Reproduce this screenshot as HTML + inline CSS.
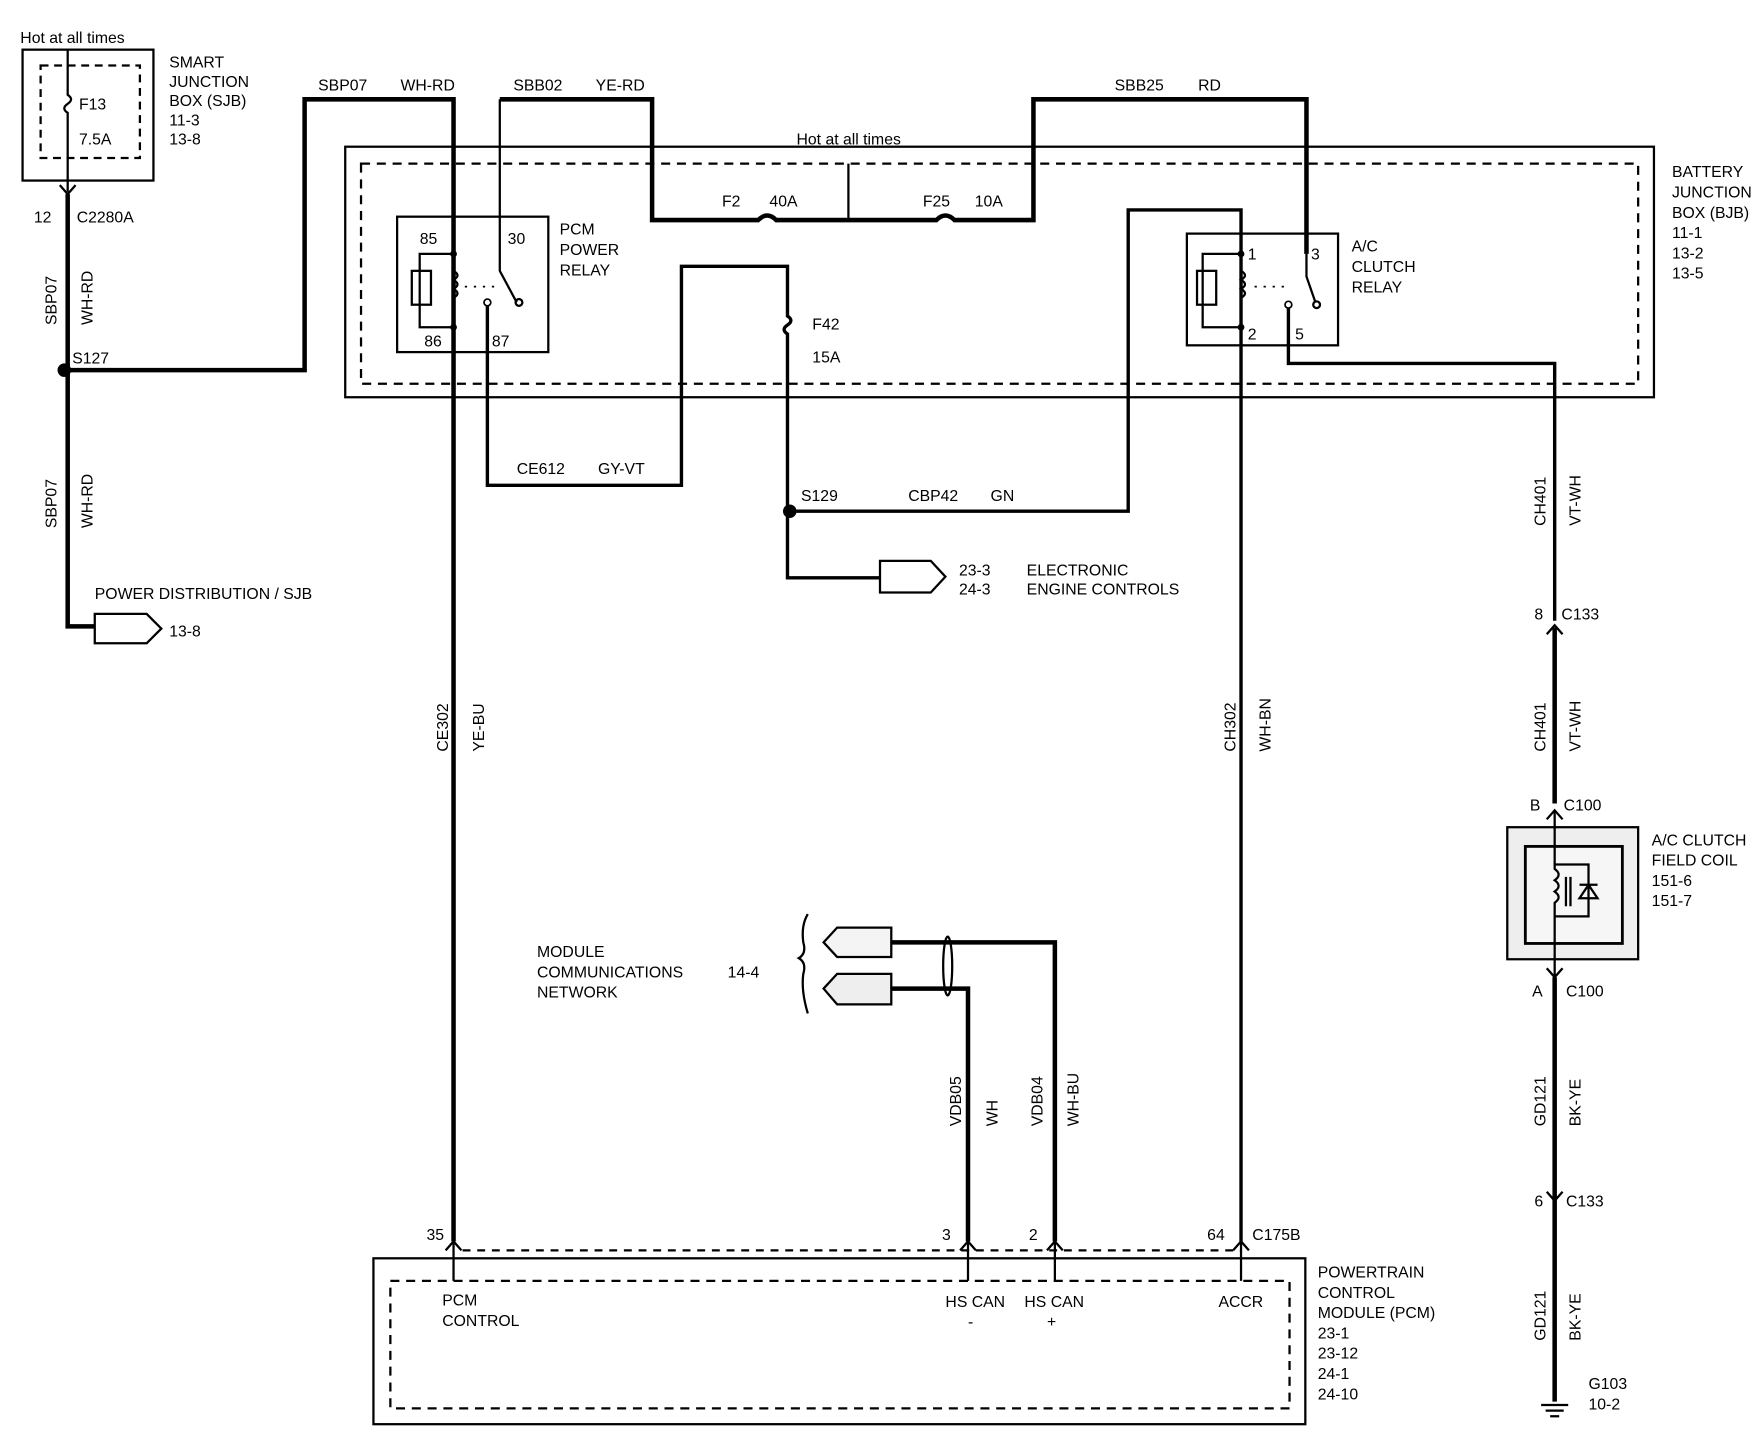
<!DOCTYPE html>
<html><head><meta charset="utf-8"><style>
html,body{margin:0;padding:0;background:#fff;}
svg{display:block;}
text{font-family:"Liberation Sans",sans-serif;font-size:14px;fill:#000;}
</style></head><body>
<svg width="1760" height="1440" viewBox="0 0 1560 1276" preserveAspectRatio="none" xmlns="http://www.w3.org/2000/svg">
<rect width="1560" height="1276" fill="#fff"/>
<g fill="none" stroke="#000">
<!-- SJB -->
<rect x="20" y="44" width="116" height="116" stroke-width="2"/>
<rect x="36" y="58" width="88" height="82" stroke-width="2" stroke-dasharray="7,5"/>
<path d="M60 44 V84 q6 4 0 8 q-6 4 0 8 V170" stroke-width="2"/>
<path d="M53 164 L60 172 L67 164" stroke-width="2"/>
<path d="M60 172 V555 H84" stroke-width="4"/>
<path d="M58 328 H270 V88 H402 V1100" stroke-width="4"/>
<path d="M84 544 H130 L143 557 L130 570 H84 Z" stroke-width="2"/>
<!-- BJB -->
<rect x="306" y="130" width="1160" height="222" stroke-width="2"/>
<rect x="320" y="145" width="1132" height="195" stroke-width="2" stroke-dasharray="8,6"/>
<path d="M443 88 H578 V195 H672 q8 -8 16 0 H830 q8 -8 16 0 H916 V88 H1158 V225" stroke-width="4"/>
<path d="M752 145 V195" stroke-width="2"/>
<path d="M443 88 V240 L458 268" stroke-width="2"/>
<!-- PCM power relay -->
<rect x="352" y="192" width="134" height="120" stroke-width="2"/>
<path d="M402 195 V330" stroke-width="2"/>
<path d="M402 225 H372 V290 H402" stroke-width="2"/>
<rect x="365" y="240" width="17" height="30" stroke-width="2"/>
<path d="M402 240 q7 4 0 8 q7 4 0 8 q7 4 0 8" stroke-width="2"/>
<path d="M412 254 H440" stroke-width="1.5" stroke-dasharray="2,6"/>
<circle cx="432" cy="268" r="3" stroke-width="1.5"/>
<circle cx="460" cy="268" r="3" stroke-width="2"/>
<path d="M432 271 V430 H604 V236 H698 V280 q6 4 0 8 q-6 4 0 8 V512 H780" stroke-width="3"/>
<path d="M780 497 H825 L838 511 L825 525 H780 Z" stroke-width="2"/>
<path d="M700 453 H1000 V186 H1100 V1100" stroke-width="3"/>
<!-- A/C relay -->
<rect x="1052" y="207" width="134" height="99" stroke-width="2"/>
<path d="M1100 225 H1066 V290 H1100" stroke-width="2"/>
<rect x="1061" y="240" width="17" height="30" stroke-width="2"/>
<path d="M1100 240 q7 4 0 8 q7 4 0 8 q7 4 0 8" stroke-width="2"/>
<path d="M1112 254 H1140" stroke-width="1.5" stroke-dasharray="2,6"/>
<path d="M1158 225 V245 L1166 268" stroke-width="2"/>
<circle cx="1167" cy="270" r="3" stroke-width="2"/>
<circle cx="1142" cy="270" r="3" stroke-width="1.5"/>
<path d="M1142 273 V322 H1378 V550" stroke-width="3"/>
<path d="M1378 556 V712" stroke-width="4"/>
<path d="M1371 562 L1378 554 L1385 562" stroke-width="2"/>
<path d="M1371 726 L1378 718 L1385 726" stroke-width="2"/>
<!-- field coil -->
<rect x="1336" y="733" width="116" height="117" stroke-width="2" fill="#eee"/>
<rect x="1352" y="750" width="86" height="86" stroke-width="2.5" fill="#f6f6f6"/>
<path d="M1378 718 V770 q7 5 0 10 q7 5 0 10 q7 5 0 10 V865" stroke-width="2"/>
<path d="M1388 777 V803 M1392 777 V803" stroke-width="2"/>
<path d="M1378 766 H1408 V812 H1378 M1400 796 H1416 L1408 784 Z M1400 784 H1416" stroke-width="2"/>
<path d="M1371 858 L1378 866 L1385 858" stroke-width="2"/>
<path d="M1378 866 V1242" stroke-width="4"/>
<path d="M1371 1056 L1378 1064 L1385 1056" stroke-width="2"/>
<path d="M1366 1245 H1390 M1370 1250 H1386 M1374 1255 H1382" stroke-width="2"/>
<!-- MCN -->
<path d="M716 810 q-6 10 -4 25 q3 10 -4 14 q7 4 4 14 q-2 15 4 35" stroke-width="2"/>
<path d="M790 822 H742 L730 835 L742 848 H790 Z" stroke-width="2" fill="#f4f4f4"/>
<path d="M790 863 H742 L730 876 L742 890 H790 Z" stroke-width="2" fill="#eee"/>
<path d="M790 835 H935 V1100" stroke-width="4"/>
<path d="M790 876 H858 V1100" stroke-width="4"/>
<ellipse cx="840" cy="856" rx="4" ry="26" stroke-width="2"/>
<!-- PCM -->
<path d="M410 1108 H1100" stroke-width="2" stroke-dasharray="7,6"/>
<rect x="331" y="1115" width="826" height="147" stroke-width="2"/>
<rect x="346" y="1135" width="797" height="113" stroke-width="2" stroke-dasharray="8,6"/>
<path d="M402 1100 V1135 M858 1100 V1135 M935 1100 V1135 M1100 1100 V1135" stroke-width="2"/>
<path d="M395 1108 L402 1100 L409 1108 M851 1108 L858 1100 L865 1108 M928 1108 L935 1100 L942 1108 M1093 1108 L1100 1100 L1107 1108" stroke-width="2"/>
</g>
<circle cx="57" cy="328" r="6"/>
<circle cx="700" cy="453" r="6"/>
<circle cx="402" cy="225" r="3"/><circle cx="402" cy="290" r="3"/>
<circle cx="1100" cy="225" r="3"/><circle cx="1100" cy="290" r="3"/>
<g>
<text x="18" y="38">Hot at all times</text>
<text x="70" y="97">F13</text><text x="70" y="128">7.5A</text>
<text x="150" y="60">SMART</text><text x="150" y="77">JUNCTION</text><text x="150" y="94">BOX (SJB)</text><text x="150" y="111">11-3</text><text x="150" y="128">13-8</text>
<text x="30" y="197">12</text><text x="68" y="197">C2280A</text>
<text x="64" y="322">S127</text>
<text x="84" y="531">POWER DISTRIBUTION / SJB</text><text x="150" y="564">13-8</text>
<text x="282" y="80">SBP07</text><text x="355" y="80">WH-RD</text>
<text x="455" y="80">SBB02</text><text x="528" y="80">YE-RD</text>
<text x="988" y="80">SBB25</text><text x="1062" y="80">RD</text>
<text x="706" y="128">Hot at all times</text>
<text x="640" y="183">F2</text><text x="682" y="183">40A</text>
<text x="818" y="183">F25</text><text x="864" y="183">10A</text>
<text x="372" y="216">85</text><text x="450" y="216">30</text><text x="376" y="307">86</text><text x="436" y="307">87</text>
<text x="496" y="208">PCM</text><text x="496" y="226">POWER</text><text x="496" y="244">RELAY</text>
<text x="720" y="292">F42</text><text x="720" y="321">15A</text>
<text x="458" y="420">CE612</text><text x="530" y="420">GY-VT</text>
<text x="710" y="444">S129</text><text x="805" y="444">CBP42</text><text x="878" y="444">GN</text>
<text x="850" y="510">23-3</text><text x="850" y="527">24-3</text><text x="910" y="510">ELECTRONIC</text><text x="910" y="527">ENGINE CONTROLS</text>
<text x="1106" y="230">1</text><text x="1162" y="230">3</text><text x="1106" y="301">2</text><text x="1148" y="301">5</text>
<text x="1198" y="223">A/C</text><text x="1198" y="241">CLUTCH</text><text x="1198" y="259">RELAY</text>
<text x="1482" y="157">BATTERY</text><text x="1482" y="175">JUNCTION</text><text x="1482" y="193">BOX (BJB)</text><text x="1482" y="211">11-1</text><text x="1482" y="229">13-2</text><text x="1482" y="247">13-5</text>
<text x="1360" y="549">8</text><text x="1384" y="549">C133</text>
<text x="1356" y="718">B</text><text x="1386" y="718">C100</text>
<text x="1464" y="749">A/C CLUTCH</text><text x="1464" y="767">FIELD COIL</text><text x="1464" y="785">151-6</text><text x="1464" y="803">151-7</text>
<text x="1358" y="883">A</text><text x="1388" y="883">C100</text>
<text x="1360" y="1069">6</text><text x="1388" y="1069">C133</text>
<text x="1408" y="1231">G103</text><text x="1408" y="1249">10-2</text>
<text x="476" y="848">MODULE</text><text x="476" y="866">COMMUNICATIONS</text><text x="476" y="884">NETWORK</text><text x="645" y="866">14-4</text>
<text x="378" y="1099">35</text><text x="835" y="1099">3</text><text x="912" y="1099">2</text><text x="1070" y="1099">64</text><text x="1110" y="1099">C175B</text>
<text x="392" y="1157">PCM</text><text x="392" y="1175">CONTROL</text>
<text x="838" y="1158">HS CAN</text><text x="858" y="1176">-</text>
<text x="908" y="1158">HS CAN</text><text x="928" y="1176">+</text>
<text x="1080" y="1158">ACCR</text>
<text x="1168" y="1132">POWERTRAIN</text><text x="1168" y="1150">CONTROL</text><text x="1168" y="1168">MODULE (PCM)</text><text x="1168" y="1186">23-1</text><text x="1168" y="1204">23-12</text><text x="1168" y="1222">24-1</text><text x="1168" y="1240">24-10</text>
<!-- vertical labels -->
<text transform="translate(50,288) rotate(-90)">SBP07</text><text transform="translate(82,288) rotate(-90)">WH-RD</text>
<text transform="translate(50,468) rotate(-90)">SBP07</text><text transform="translate(82,468) rotate(-90)">WH-RD</text>
<text transform="translate(397,666) rotate(-90)">CE302</text><text transform="translate(429,666) rotate(-90)">YE-BU</text>
<text transform="translate(1095,666) rotate(-90)">CH302</text><text transform="translate(1126,666) rotate(-90)">WH-BN</text>
<text transform="translate(1370,466) rotate(-90)">CH401</text><text transform="translate(1401,466) rotate(-90)">VT-WH</text>
<text transform="translate(1370,666) rotate(-90)">CH401</text><text transform="translate(1401,666) rotate(-90)">VT-WH</text>
<text transform="translate(852,998) rotate(-90)">VDB05</text><text transform="translate(884,998) rotate(-90)">WH</text>
<text transform="translate(924,998) rotate(-90)">VDB04</text><text transform="translate(956,998) rotate(-90)">WH-BU</text>
<text transform="translate(1370,998) rotate(-90)">GD121</text><text transform="translate(1401,998) rotate(-90)">BK-YE</text>
<text transform="translate(1370,1188) rotate(-90)">GD121</text><text transform="translate(1401,1188) rotate(-90)">BK-YE</text>
</g>
</svg>
</body></html>
